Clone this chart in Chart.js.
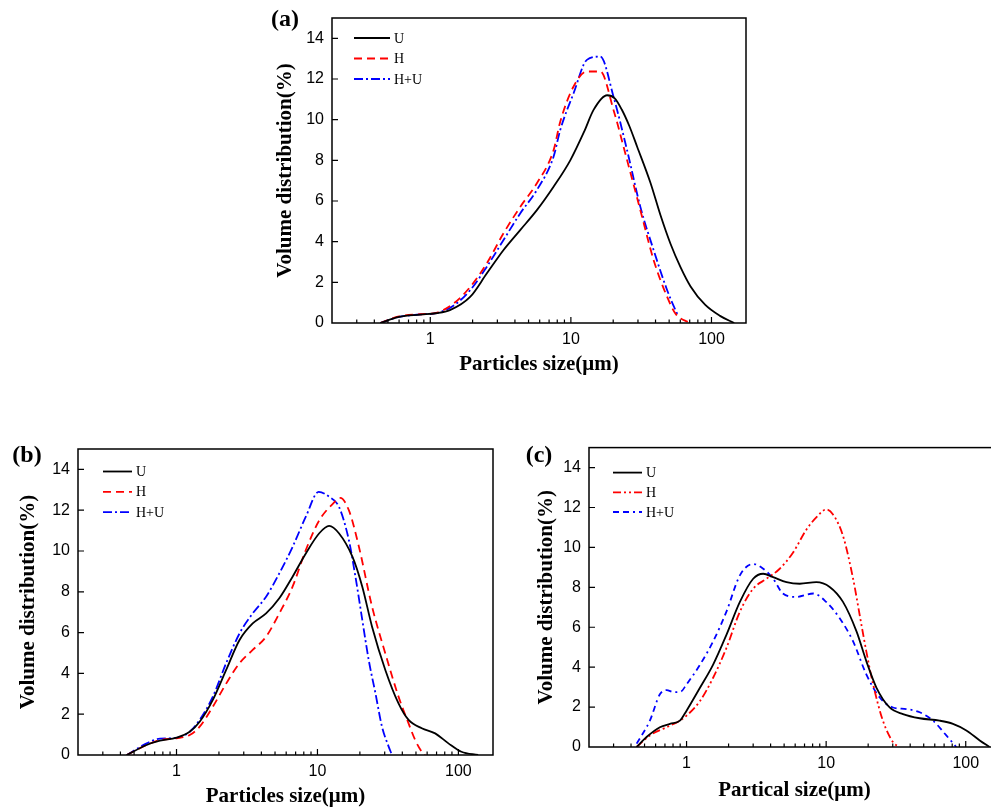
<!DOCTYPE html>
<html>
<head>
<meta charset="utf-8">
<script src="https://cdn.jsdelivr.net/npm/chart.js@4.4.1/dist/chart.umd.min.js"></script>
<style>
  html, body { margin: 0; padding: 0; background: #fff; }
  #page { position: relative; width: 991px; height: 808px; overflow: hidden; }
  #page canvas { position: absolute; }
</style>
</head>
<body>
<div id="page">
  <canvas id="chartA" width="500" height="385" style="left:255px;top:0px"></canvas>
  <canvas id="chartB" width="500" height="390" style="left:0px;top:430px"></canvas>
  <canvas id="chartC" width="520" height="390" style="left:500px;top:430px"></canvas>
</div>
<script>
// series names and axis labels
const seriesNames = ['U', 'H', 'H+U']
const yTitle = 'Volume distribution(%)'
const xTitles = ['Particles size(μm)', 'Particles size(μm)', 'Partical size(μm)']
const panelLabels = ['(a)', '(b)', '(c)']
const xMin = 0.2, xMax = 176
const yMin = 0, yMax = 15

// panel (a)
const aSizeU = [0.44, 0.6, 0.85, 1.1, 1.38, 1.92, 2.52, 3.31, 4.36, 5.73, 7.53, 9.9, 12.5, 14.5, 18.1, 20.5, 23, 26, 29.6, 36.8, 43.4, 51.1, 60.2, 71, 90, 115, 145]
const aU = [0, 0.3, 0.41, 0.48, 0.63, 1.28, 2.43, 3.58, 4.57, 5.55, 6.7, 8.0, 9.45, 10.48, 11.2, 11.05, 10.5, 9.7, 8.67, 6.9, 5.3, 3.9, 2.75, 1.8, 0.9, 0.35, 0]
const aSizeH = [0.44, 0.6, 0.85, 1.1, 1.46, 1.92, 2.52, 3.31, 4.36, 5.73, 7.53, 8.4, 10.45, 13.0, 16.2, 20.1, 25.1, 31.2, 38.8, 48.4, 55.5, 70]
const aH = [0, 0.32, 0.43, 0.5, 0.95, 1.77, 2.93, 4.4, 5.71, 6.87, 8.5, 9.9, 11.63, 12.37, 12.37, 10.48, 8.01, 5.55, 3.09, 1.28, 0.46, 0]
const aSizeHU = [0.44, 0.6, 0.85, 1.1, 1.46, 1.92, 2.52, 3.31, 4.36, 5.73, 7.53, 8.4, 10.45, 13.0, 16.2, 20.1, 25.1, 31.2, 38.8, 48.4, 55.5, 58]
const aHU = [0, 0.3, 0.42, 0.48, 0.85, 1.61, 2.76, 4.07, 5.39, 6.54, 8.18, 9.49, 11.3, 12.94, 13.1, 11.13, 8.5, 5.71, 3.58, 1.61, 0.63, 0.35]

// panel (b)
const bSizeU = [0.444, 0.614, 0.763, 1, 1.24, 1.46, 1.81, 2.25, 2.8, 3.47, 4.32, 5.36, 6.66, 8.27, 10.3, 12.1, 14.2, 17.7, 20.8, 24.4, 30.3, 37.6, 44.3, 55, 68.4, 85, 105, 138]
const bU = [0, 0.49, 0.7, 0.85, 1.14, 1.63, 2.7, 4.17, 5.64, 6.45, 6.94, 7.68, 8.74, 9.88, 10.87, 11.23, 10.87, 9.72, 8.25, 6.29, 4.17, 2.53, 1.72, 1.31, 1.06, 0.57, 0.16, 0]
const bSizeH = [0.444, 0.614, 0.763, 1, 1.24, 1.46, 1.81, 2.25, 2.8, 3.47, 4.32, 5.36, 6.66, 8.27, 10.3, 12.8, 14.5, 16.7, 19.7, 24.4, 30.3, 37.6, 44.3, 49.3, 55, 58]
const bH = [0, 0.49, 0.73, 0.82, 0.98, 1.39, 2.37, 3.5, 4.5, 5.15, 5.8, 6.94, 8.25, 10.05, 11.5, 12.3, 12.6, 12.0, 10.2, 7.27, 4.98, 2.86, 1.55, 0.74, 0.16, 0]
const bSizeHU = [0.444, 0.614, 0.763, 1, 1.24, 1.46, 1.81, 2.25, 2.8, 3.47, 4.32, 5.36, 6.66, 8.27, 10.2, 12.1, 14.2, 16.7, 18.6, 20.8, 23.1, 25.8, 28.7, 32, 33.8]
const bHU = [0, 0.57, 0.8, 0.84, 1.14, 1.72, 2.86, 4.5, 5.96, 6.94, 7.76, 8.9, 10.2, 11.68, 12.9, 12.66, 12.17, 10.54, 8.74, 6.62, 4.66, 3.02, 1.39, 0.41, 0]

// panel (c)
const cSizeU = [0.439, 0.517, 0.644, 0.76, 0.896, 1, 1.25, 1.55, 1.93, 2.41, 3.0, 3.54, 4.17, 5.2, 6.47, 8.5, 10.6, 13.2, 16.5, 19.4, 22.9, 28.5, 35.5, 46.8, 65, 81, 101, 126, 148]
const cU = [0, 0.5, 0.99, 1.16, 1.32, 1.82, 2.98, 4.13, 5.62, 7.27, 8.43, 8.68, 8.51, 8.26, 8.18, 8.26, 8.02, 7.27, 5.79, 4.3, 2.98, 1.98, 1.65, 1.44, 1.32, 1.16, 0.83, 0.33, 0]
const cSizeH = [0.439, 0.546, 0.719, 0.896, 1, 1.25, 1.55, 1.93, 2.41, 3.0, 3.74, 4.65, 5.8, 7.23, 8.5, 10, 11.2, 13.2, 15.6, 17.4, 19.4, 21.7, 25.5, 30.1, 33.6]
const cH = [0, 0.58, 0.99, 1.32, 1.57, 2.31, 3.47, 4.96, 6.78, 7.93, 8.43, 8.93, 9.75, 10.9, 11.5, 11.9, 11.65, 10.58, 8.43, 6.6, 4.79, 3.14, 1.32, 0.25, 0]
const cSizeHU = [0.439, 0.546, 0.644, 0.719, 0.81, 0.91, 1, 1.25, 1.55, 1.93, 2.41, 3.0, 3.54, 4.17, 4.9, 6.1, 8.1, 10, 12.5, 15.6, 19.4, 24.2, 30.1, 37.5, 46.8, 58.3, 72.6, 85.5]
const cHU = [0.17, 1.32, 2.64, 2.85, 2.75, 2.78, 3.14, 4.13, 5.29, 6.78, 8.6, 9.17, 8.93, 8.43, 7.69, 7.52, 7.69, 7.27, 6.45, 5.29, 3.64, 2.48, 1.98, 1.9, 1.74, 1.32, 0.58, 0]

const tickFont = { family: 'Liberation Sans, Arial, sans-serif', size: 16 }
const titleFont = { family: 'Liberation Serif, Times New Roman, serif', size: 21, weight: 'bold' }

function pts(xs, ys) {
  return xs.map((x, i) => ({ x: x, y: ys[i] }))
}

function isDecade(v) {
  const l = Math.log10(v)
  return Math.abs(l - Math.round(l)) < 1e-6
}

function mantissaOk(v) {
  const m = v / Math.pow(10, Math.floor(Math.log10(v) + 1e-9))
  return Math.abs(m - Math.round(m)) < 1e-6
}

// frame, inward ticks, legend and panel label
const framePlugin = {
  id: 'frame',
  afterDraw(chart, args, opts) {
    const { ctx, chartArea: a, scales: { x, y } } = chart
    ctx.save()
    ctx.strokeStyle = '#000'
    ctx.lineWidth = 1.5
    ctx.strokeRect(a.left, a.top, a.right - a.left, a.bottom - a.top)

    ctx.lineWidth = 1.2
    ctx.beginPath()
    y.ticks.forEach(t => {
      if (t.value <= yMin || t.value >= yMax) return
      const py = y.getPixelForValue(t.value)
      const len = t.value % 2 === 0 ? 6 : 3.5
      ctx.moveTo(a.left, py)
      ctx.lineTo(a.left + len, py)
    })
    x.ticks.forEach(t => {
      if (t.value <= xMin || t.value >= xMax || !mantissaOk(t.value)) return
      const px = x.getPixelForValue(t.value)
      const len = isDecade(t.value) ? 6 : 3.5
      ctx.moveTo(px, a.bottom)
      ctx.lineTo(px, a.bottom - len)
    })
    ctx.stroke()

    // legend
    const lg = opts.legend
    ctx.font = '14px "Liberation Serif", "Times New Roman", serif'
    ctx.textBaseline = 'middle'
    ctx.textAlign = 'left'
    chart.data.datasets.forEach((ds, i) => {
      const ly = a.top + lg.dy + i * lg.gap
      const lx = a.left + lg.dx
      ctx.save()
      ctx.strokeStyle = ds.borderColor
      ctx.lineWidth = ds.borderWidth
      ctx.setLineDash(ds.borderDash || [])
      ctx.beginPath()
      ctx.moveTo(lx, ly)
      ctx.lineTo(lx + lg.len, ly)
      ctx.stroke()
      ctx.restore()
      ctx.fillStyle = '#000'
      ctx.fillText(ds.label, lx + lg.len + 4, ly + 1)
    })

    // panel label
    ctx.font = 'bold 24px "Liberation Serif", "Times New Roman", serif'
    ctx.textAlign = 'center'
    ctx.fillStyle = '#000'
    ctx.fillText(opts.label, opts.labelX, opts.labelY)
    ctx.restore()
  }
}

function makePanel(id, g, sets, xTitle, label) {
  const styles = g.styles
  const datasets = sets.map((s, i) => ({
    label: seriesNames[i],
    data: pts(s[0], s[1]),
    borderColor: styles[i].color,
    borderWidth: 1.8,
    borderDash: styles[i].dash,
    pointRadius: 0,
    fill: false,
    cubicInterpolationMode: 'monotone'
  }))

  return new Chart(document.getElementById(id), {
    type: 'line',
    data: { datasets: datasets },
    plugins: [framePlugin],
    options: {
      responsive: false,
      animation: false,
      events: [],
      layout: { padding: { left: 0, top: g.padTop, right: g.padRight, bottom: 0 } },
      scales: {
        x: {
          type: 'logarithmic',
          min: xMin,
          max: xMax,
          afterFit: (scale) => { scale.height = g.xAxisH },
          grid: { display: false, drawTicks: false },
          border: { display: false },
          ticks: {
            autoSkip: false,
            maxRotation: 0,
            padding: 7,
            color: '#000',
            font: tickFont,
            callback: (v) => isDecade(v) ? String(Math.round(v)) : ''
          },
          title: { display: true, text: xTitle, color: '#000', font: titleFont, padding: { top: 0, bottom: g.xTitlePad } }
        },
        y: {
          type: 'linear',
          min: yMin,
          max: yMax,
          afterFit: (scale) => { scale.width = g.yAxisW },
          grid: { display: false, drawTicks: false },
          border: { display: false },
          ticks: {
            stepSize: 1,
            padding: 8,
            color: '#000',
            font: tickFont,
            callback: (v) => v % 2 === 0 && v < yMax ? String(v) : ''
          },
          title: { display: true, text: yTitle, color: '#000', font: titleFont, padding: { top: g.yTitlePad, bottom: 0 } }
        }
      },
      plugins: {
        legend: { display: false },
        tooltip: { enabled: false },
        frame: { legend: g.legend, label: label, labelX: g.labelX, labelY: g.labelY }
      }
    }
  })
}

const solidBlack = { color: '#000000', dash: [] }

makePanel('chartA', {
  padTop: 18, padRight: 9, yAxisW: 77, xAxisH: 62, yTitlePad: 18.4, xTitlePad: 7.4,
  legend: { dx: 22, dy: 20, gap: 20.5, len: 36 },
  labelX: 30, labelY: 20,
  styles: [solidBlack, { color: '#ff0000', dash: [8, 5] }, { color: '#0000ff', dash: [9, 3, 2, 3] }]
}, [[aSizeU, aU], [aSizeH, aH], [aSizeHU, aHU]], xTitles[0], panelLabels[0])

makePanel('chartB', {
  padTop: 19, padRight: 5, yAxisW: 78, xAxisH: 65, yTitlePad: 16.4, xTitlePad: 10.4,
  legend: { dx: 25, dy: 22.5, gap: 20.3, len: 29 },
  labelX: 27, labelY: 26,
  styles: [solidBlack, { color: '#ff0000', dash: [8, 5] }, { color: '#0000ff', dash: [9, 3, 2, 3] }]
}, [[bSizeU, bU], [bSizeH, bH], [bSizeHU, bHU]], xTitles[1], panelLabels[1])

makePanel('chartC', {
  padTop: 14, padRight: 20, yAxisW: 89, xAxisH: 73, yTitlePad: 33.9, xTitlePad: 16.4,
  legend: { dx: 24, dy: 25, gap: 19.7, len: 29 },
  labelX: 39, labelY: 26,
  styles: [solidBlack, { color: '#ff0000', dash: [8, 3, 2, 3, 2, 3] }, { color: '#0000ff', dash: [6, 4, 6, 4, 2, 4] }]
}, [[cSizeU, cU], [cSizeH, cH], [cSizeHU, cHU]], xTitles[2], panelLabels[2])
</script>
</body>
</html>
